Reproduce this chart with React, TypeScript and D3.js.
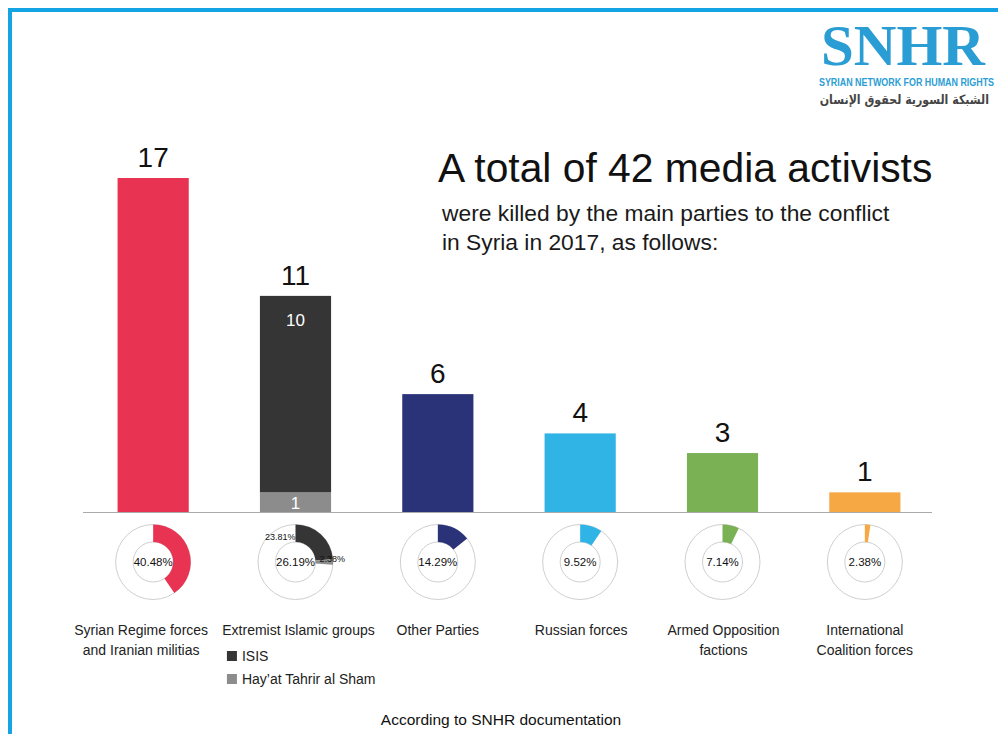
import * as d3 from 'd3';
import { useEffect, useRef } from 'react';

// values read from the SNHR 2017 media activists infographic
const categories = [
  ['Syrian Regime forces', 'and Iranian militias'],
  ['Extremist Islamic groups'],
  ['Other Parties'],
  ['Russian forces'],
  ['Armed Opposition', 'factions'],
  ['International', 'Coalition forces'],
];
const totals = [17, 11, 6, 4, 3, 1];
const colors = ['#e83353', '#353535', '#2a3378', '#30b4e6', '#7ab155', '#f5a843'];
const extremistGroups = ['ISIS', 'Hay\u2019at Tahrir al Sham'];
const extremistValues = [10, 1];
const extremistColors = ['#353535', '#8c8c8c'];
const totalKilled = 42;

const W = 998;
const H = 734;
const FONT = '"Liberation Sans", Arial, Helvetica, sans-serif';

const App = () => {
  const ref = useRef<SVGSVGElement>(null);

  useEffect(() => {
    const svg = d3.select(ref.current);
    svg.selectAll('*').remove();

    // frame lines
    svg.append('rect').attr('x', 8).attr('y', 8).attr('width', W - 8).attr('height', 4).attr('fill', '#14a4e4');
    svg.append('rect').attr('x', 8).attr('y', 8).attr('width', 4).attr('height', H - 8).attr('fill', '#14a4e4');

    // logo
    const logo = svg.append('g');
    logo.append('text')
      .attr('x', 821).attr('y', 65)
      .attr('font-family', '"Liberation Serif", "DejaVu Serif", serif')
      .attr('font-weight', 'bold')
      .attr('font-size', 56)
      .attr('fill', '#2a9dd4')
      .attr('textLength', 164)
      .attr('lengthAdjust', 'spacingAndGlyphs')
      .text('SNHR');
    logo.append('g')
      .attr('transform', 'translate(819,86) scale(0.81,1)')
      .append('text')
      .attr('font-family', FONT)
      .attr('font-weight', 'bold')
      .attr('font-size', 11)
      .attr('fill', '#2a9dd4')
      .text('SYRIAN NETWORK FOR HUMAN RIGHTS');
    logo.append('g')
      .attr('transform', 'translate(989,104) scale(0.85,1)')
      .append('text')
      .attr('font-family', '"DejaVu Sans", "Noto Sans", sans-serif')
      .attr('font-weight', 'bold')
      .attr('font-size', 13)
      .attr('fill', '#454545')
      .attr('direction', 'rtl')
      .attr('text-anchor', 'start')
      .text('الشبكة السورية لحقوق الإنسان');

    // title
    svg.append('text')
      .attr('x', 438).attr('y', 182)
      .attr('font-family', FONT)
      .attr('font-size', 40.8)
      .attr('fill', '#111')
      .text('A total of 42 media activists');
    const sub = svg.append('text')
      .attr('font-family', FONT)
      .attr('font-size', 22.8)
      .attr('fill', '#1a1a1a');
    sub.append('tspan').attr('x', 442).attr('y', 221).text('were killed by the main parties to the conflict');
    sub.append('tspan').attr('x', 442).attr('y', 250).text('in Syria in 2017, as follows:');

    const x = d3.scaleBand<number>()
      .domain(totals.map((_, i) => i))
      .range([82, 936])
      .paddingInner(0.5)
      .paddingOuter(0.25);
    const baseline = 512;
    const y = d3.scaleLinear().domain([0, 17]).range([baseline, 178]);

    // bars
    const bars = svg.append('g');
    totals.forEach((v, i) => {
      if (i === 1) {
        let acc = 0;
        extremistValues.slice().reverse().forEach((sv, j) => {
          const k = extremistValues.length - 1 - j;
          bars.append('rect')
            .attr('x', x(i)!)
            .attr('y', y(acc + sv))
            .attr('width', x.bandwidth())
            .attr('height', y(acc) - y(acc + sv))
            .attr('fill', extremistColors[k]);
          acc += sv;
        });
      } else {
        bars.append('rect')
          .attr('x', x(i)!)
          .attr('y', y(v))
          .attr('width', x.bandwidth())
          .attr('height', baseline - y(v))
          .attr('fill', colors[i]);
      }
      bars.append('text')
        .attr('x', x(i)! + x.bandwidth() / 2)
        .attr('y', y(v) - 11)
        .attr('text-anchor', 'middle')
        .attr('font-family', FONT)
        .attr('font-size', 28)
        .attr('fill', '#111')
        .text(v);
    });
    // inner labels for stacked bar
    const cx1 = x(1)! + x.bandwidth() / 2;
    bars.append('text')
      .attr('x', cx1).attr('y', y(totals[1]) + 30)
      .attr('text-anchor', 'middle').attr('font-family', FONT)
      .attr('font-size', 17).attr('fill', '#fff')
      .text(extremistValues[0]);
    bars.append('text')
      .attr('x', cx1).attr('y', y(0) - 3)
      .attr('text-anchor', 'middle').attr('font-family', FONT)
      .attr('font-size', 17).attr('fill', '#fff')
      .text(extremistValues[1]);

    svg.append('line')
      .attr('x1', 83).attr('x2', 932)
      .attr('y1', baseline + 0.5).attr('y2', baseline + 0.5)
      .attr('stroke', '#aaa').attr('stroke-width', 1);

    // donuts
    const fmt = d3.format('.2f');
    const pie = d3.pie<number>().sort(null).value((d) => d);
    const rIn = 20;
    const rOut = 37.5;
    const arc = d3.arc<d3.PieArcDatum<number>>().innerRadius(rIn).outerRadius(rOut);
    const cy = 562;
    totals.forEach((v, i) => {
      const cx = x(i)! + x.bandwidth() / 2;
      const g = svg.append('g').attr('transform', `translate(${cx},${cy})`);
      g.append('circle').attr('r', rOut).attr('fill', '#fff').attr('stroke', '#cfcfcf').attr('stroke-width', 1);
      g.append('circle').attr('r', rIn).attr('fill', '#fff').attr('stroke', '#cfcfcf').attr('stroke-width', 1);
      const parts = i === 1 ? [...extremistValues, totalKilled - v] : [v, totalKilled - v];
      const partColors = i === 1 ? extremistColors : [colors[i]];
      const arcs = pie(parts);
      arcs.slice(0, partColors.length).forEach((a, j) => {
        g.append('path').attr('d', arc(a)!).attr('fill', partColors[j]);
      });
      g.append('text')
        .attr('y', 4).attr('text-anchor', 'middle')
        .attr('font-family', FONT).attr('font-size', 11.5).attr('fill', '#111')
        .text(fmt((v / totalKilled) * 100) + '%');
      if (i === 1) {
        g.append('text')
          .attr('x', 0).attr('y', -22).attr('text-anchor', 'end')
          .attr('font-family', FONT).attr('font-size', 9).attr('fill', '#111')
          .text(fmt((extremistValues[0] / totalKilled) * 100) + '%');
        g.append('text')
          .attr('x', 24).attr('y', 0).attr('text-anchor', 'start')
          .attr('font-family', FONT).attr('font-size', 9).attr('fill', '#111')
          .text(fmt((extremistValues[1] / totalKilled) * 100) + '%');
      }
    });

    // category labels
    const labelShift = [-12, 3, 0, 1, 1, 0];
    categories.forEach((lines, i) => {
      const cx = x(i)! + x.bandwidth() / 2 + labelShift[i];
      const t = svg.append('text')
        .attr('text-anchor', 'middle')
        .attr('font-family', FONT)
        .attr('font-size', 14)
        .attr('fill', '#222');
      lines.forEach((l, k) => {
        t.append('tspan').attr('x', cx).attr('y', 635 + k * 19.5).text(l);
      });
    });

    // legend for extremist groups
    const lx = x(1)! - 33;
    extremistGroups.forEach((name, k) => {
      const ly = 651 + k * 23;
      svg.append('rect').attr('x', lx).attr('y', ly).attr('width', 10).attr('height', 10).attr('fill', extremistColors[k]);
      svg.append('text')
        .attr('x', lx + 15).attr('y', ly + 10)
        .attr('font-family', FONT).attr('font-size', 14).attr('fill', '#222')
        .text(name);
    });

    svg.append('text')
      .attr('x', 501).attr('y', 725)
      .attr('text-anchor', 'middle')
      .attr('font-family', FONT)
      .attr('font-size', 15.5)
      .attr('fill', '#111')
      .text('According to SNHR documentation');
  }, []);

  return (
    <svg
      ref={ref}
      width={W}
      height={H}
      style={{ position: 'absolute', left: 0, top: 0, background: '#fff', display: 'block' }}
    />
  );
};

export default App;
